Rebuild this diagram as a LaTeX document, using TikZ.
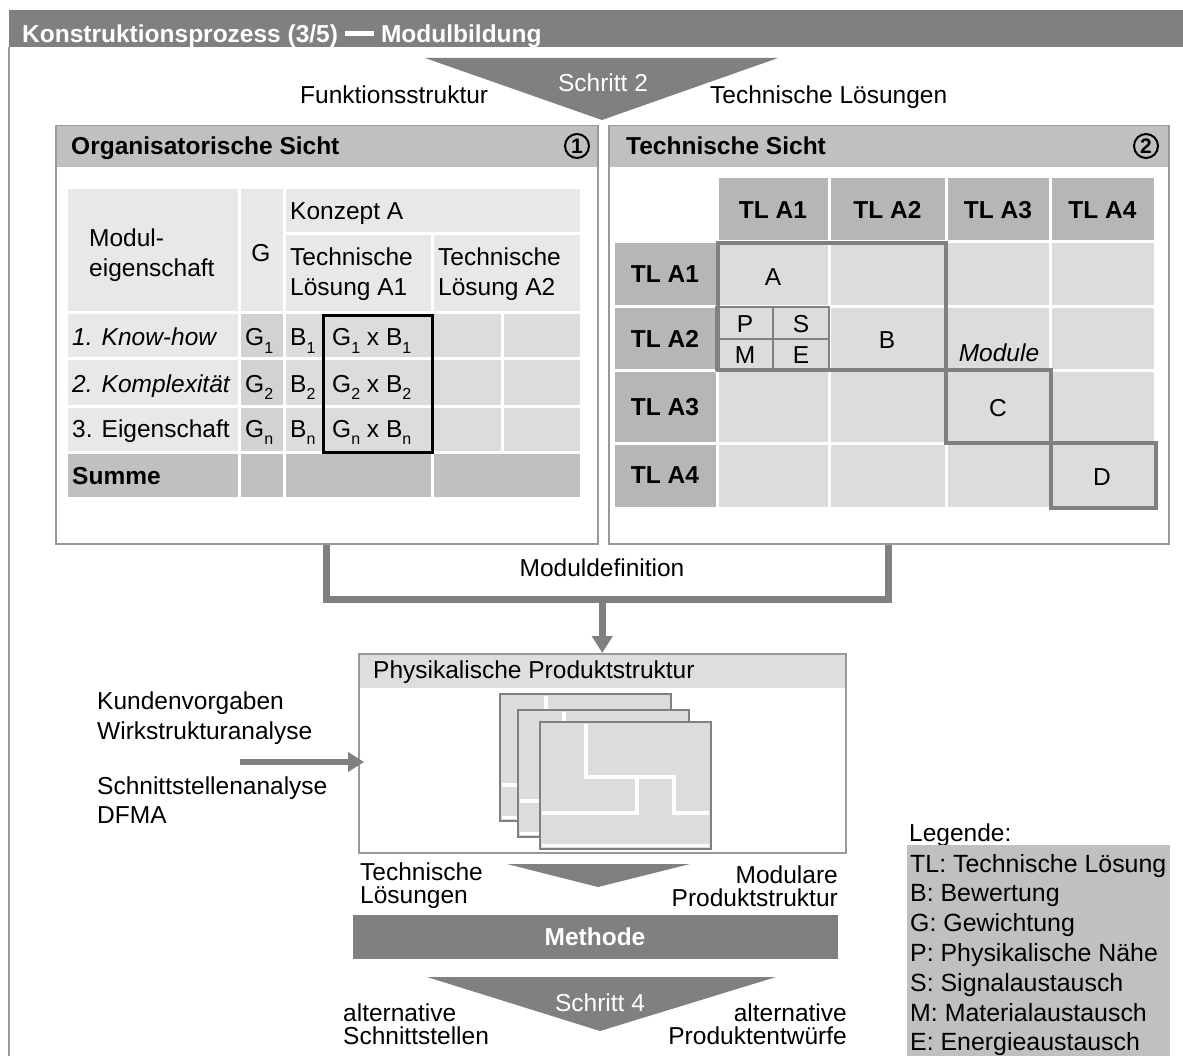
\documentclass[tikz,border=0pt]{standalone}
\usepackage{fontspec}
\setmainfont{Liberation Sans}
\usetikzlibrary{arrows.meta}

\definecolor{dunkel}{HTML}{808080}
\definecolor{kopf}{HTML}{C0C0C0}
\definecolor{zelle}{HTML}{DCDCDC}
\definecolor{hell}{HTML}{E8E8E8}
\definecolor{gspalte}{HTML}{D2D2D2}
\definecolor{tlkopf}{HTML}{B6B6B6}
\definecolor{rahmen}{HTML}{999999}
\definecolor{pkopf}{HTML}{DEDEDE}

\newcommand\idx[1]{\raisebox{-0.3em}{\fontsize{16}{16}\selectfont #1}}

\begin{document}
\begin{tikzpicture}[x=1pt,y=-1pt,
  every node/.style={inner sep=0pt,font=\fontsize{24.5}{29.5}\selectfont},
  fett/.style={font=\fontsize{24.5}{29.5}\selectfont\bfseries},
  eng/.style={font=\fontsize{24.5}{23}\selectfont},
  cell/.style={draw=white,line width=3pt,fill=zelle},
  sichtbox/.style={draw=rahmen,line width=1.5pt,anchor=north west},
  nummer/.style={circle,draw,line width=2pt,minimum size=24pt,font=\fontsize{21}{21}\selectfont\bfseries},
  modul/.style={draw=dunkel,line width=4pt},
  conn/.style={draw=dunkel,line width=7pt},
  pfeil/.style={conn,-{Triangle[width=20pt,length=17pt]}}]

\useasboundingbox (0,0) rectangle (1183,1056);
\fill[white] (0,0) rectangle (1183,1056);

\fill[dunkel] (9,10) rectangle (1183,47);
\draw[rahmen,line width=2pt] (9,47) -- (9,1056);
\node[fett,text=white,anchor=base west] (titel) at (22,43)
  {Konstruktionsprozess (3/5) \rule[0.29em]{1.2em}{0.18em} Modulbildung};

\fill[dunkel] (425,58) -- (778,58) -- (602,120) -- cycle;
\node[text=white,anchor=base] (schritt2) at (603,92) {Schritt 2};
\node[anchor=base west] (funk) at (300,104) {Funktionsstruktur};
\node[anchor=base west] (tloes) at (710,104) {Technische Lösungen};

% Organisatorische Sicht
\fill[kopf] (55,125) rectangle (597,167);
\node[sichtbox,minimum width=542pt,minimum height=418pt] (org) at (55,125) {};
\node[fett,anchor=base west] (orgtitel) at (71,155) {Organisatorische Sicht};
\node[nummer] (nr1) at (577,146) {1};

\path[cell,fill=hell] (66,188) rectangle (239,313);
\path[cell,fill=hell] (239,188) rectangle (284,313);
\path[cell,fill=hell] (284,188) rectangle (581,234);
\path[cell,fill=hell] (284,234) rectangle (432,313);
\path[cell,fill=hell] (432,234) rectangle (581,313);
\foreach \ya/\yb in {313/359,359/406,406/452}{
  \path[cell,fill=hell] (66,\ya) rectangle (239,\yb);
  \path[cell,fill=gspalte] (239,\ya) rectangle (284,\yb);
  \path[cell] (284,\ya) rectangle (432,\yb);
  \path[cell] (432,\ya) rectangle (502,\yb);
  \path[cell] (502,\ya) rectangle (581,\yb);
}
\foreach \xa/\xb in {66/239,239/284,284/432,432/581}
  \path[cell,fill=kopf] (\xa,452) rectangle (\xb,498);
\draw[line width=3pt] (323,316) rectangle (432,452);

\node[anchor=west,align=left] (meig) at (89,255) {Modul-\\eigenschaft};
\node (gkopf) at (261,253) {G};
\node[anchor=base west] (konz) at (290,220) {Konzept A};
\node[anchor=west,align=left] (tla1) at (290,274) {Technische\\Lösung A1};
\node[anchor=west,align=left] (tla2) at (438,274) {Technische\\Lösung A2};
\foreach \y/\i/\lab in {346/1/{\itshape 1. Know-how},392/2/{\itshape 2. Komplexität},437/n/{3. Eigenschaft}}{
  \node[anchor=base west] (zeile\i) at (72,\y) {\lab};
  \node[anchor=base west] (g\i) at (245,\y) {G\idx{\i}};
  \node[anchor=base west] (b\i) at (290,\y) {B\idx{\i}};
  \node[anchor=base west] (gb\i) at (332,\y) {G\idx{\i}\ x B\idx{\i}};
}
\node[fett,anchor=base west] (summe) at (72,484) {Summe};

% Technische Sicht
\fill[kopf] (608,125) rectangle (1168,167);
\node[sichtbox,minimum width=560pt,minimum height=418pt] (tech) at (608,125) {};
\node[fett,anchor=base west] (techtitel) at (626,155) {Technische Sicht};
\node[nummer] (nr2) at (1146,146) {2};

\foreach \xa/\xb [count=\i] in {717/829,829/946,946/1050,1050/1155}{
  \path[cell,fill=tlkopf] (\xa,177) rectangle (\xb,242);
  \node[fett] (sp\i) at ({(\xa+\xb)/2},210) {TL A\i};
}
\foreach \ya/\yb [count=\j] in {242/307,307/371,371/443,443/508}{
  \path[cell,fill=tlkopf] (613,\ya) rectangle (717,\yb);
  \node[fett] (ze\j) at (665,{(\ya+\yb)/2}) {TL A\j};
  \foreach \xa/\xb in {717/829,829/946,946/1050,1050/1155}
    \path[cell] (\xa,\ya) rectangle (\xb,\yb);
}
\draw[modul] (718,243) rectangle (946,370);
\draw[modul] (946,370) rectangle (1051,443);
\draw[modul] (1051,443) rectangle (1156,508);
\draw[dunkel,line width=2.5pt] (716,307) rectangle (829,370)
  (773,307) -- (773,370) (716,339) -- (829,339);
\node (lp) at (745,324) {P};
\node (ls) at (801,324) {S};
\node (lm) at (745,355) {M};
\node (le) at (801,355) {E};
\node (ma) at (773,277) {A};
\node (mb) at (887,340) {B};
\node (mc) at (998,408) {C};
\node (md) at (1102,477) {D};
\node[font=\fontsize{24.5}{29.5}\selectfont\itshape] (modlab) at (999,353) {Module};

% Moduldefinition
\fill[pkopf] (358,653) rectangle (845,688);
\node[sichtbox,minimum width=487pt,minimum height=199pt] (phys) at (358,653) {};
\node[anchor=base west] (phystitel) at (373,678) {Physikalische Produktstruktur};
\path (org.south) ++(0,55) coordinate (bar);
\draw[conn] (org.south) -- (bar) -| (tech.south);
\draw[pfeil] (bar -| phys.north) -- (phys.north);
\node[anchor=base] (mdef) at (602,576) {Moduldefinition};

\foreach \px/\py in {500/694,518/710,540/722}{
  \filldraw[fill=zelle,draw=dunkel,line width=2pt] (\px,\py) rectangle ++(171,127);
  \draw[white,line width=3.5pt] (\px+46,\py+2) -- (\px+46,\py+55) -- (\px+134,\py+55)
    -- (\px+134,\py+91) -- (\px+169,\py+91);
  \draw[white,line width=3.5pt] (\px+97,\py+55) -- (\px+97,\py+91) -- (\px+2,\py+91);
  \draw[white,line width=3pt] (\px+2,\py+123) -- (\px+169,\py+123);
}

\node[anchor=west,align=left] (vorgaben) at (97,718) {Kundenvorgaben\\Wirkstrukturanalyse};
\node[anchor=west,align=left] (analyse) at (97,800) {Schnittstellenanalyse\\DFMA};
\coordinate (ein) at (240,762);
\draw[conn,line width=6pt,-{Triangle[width=19pt,length=16pt]}] (ein) -- ([xshift=6pt]ein -| phys.west);

% Methode
\fill[dunkel] (507,864) -- (690,864) -- (598,887) -- cycle;
\node[eng,anchor=west,align=left] (tl2) at (360,886) {Technische\\Lösungen};
\node[eng,anchor=east,align=right] (mps) at (838,886) {Modulare\\Produktstruktur};
\node[fill=dunkel,minimum width=485pt,minimum height=44pt,fett,text=white] (methode) at (595,937) {Methode};

\fill[dunkel] (427,977) -- (776,977) -- (600,1031) -- cycle;
\node[text=white,anchor=base] (schritt4) at (600,1011) {Schritt 4};
\node[eng,anchor=west,align=left] (alts) at (343,1024) {alternative\\Schnittstellen};
\node[eng,anchor=east,align=right] (altp) at (847,1024) {alternative\\Produktentwürfe};

% Legende
\node[anchor=base west] (legende) at (909,841) {Legende:};
\fill[kopf] (907,845) rectangle (1170,1056);
\foreach \t [count=\i from 0] in {TL: Technische Lösung,B: Bewertung,G: Gewichtung,P: Physikalische Nähe,S: Signalaustausch,M: Materialaustausch,E: Energieaustausch}
  \node[anchor=base west,font=\fontsize{24.9}{29.8}\selectfont] (leg\i) at (910,{872+29.8*\i}) {\t};
\end{tikzpicture}
\end{document}
